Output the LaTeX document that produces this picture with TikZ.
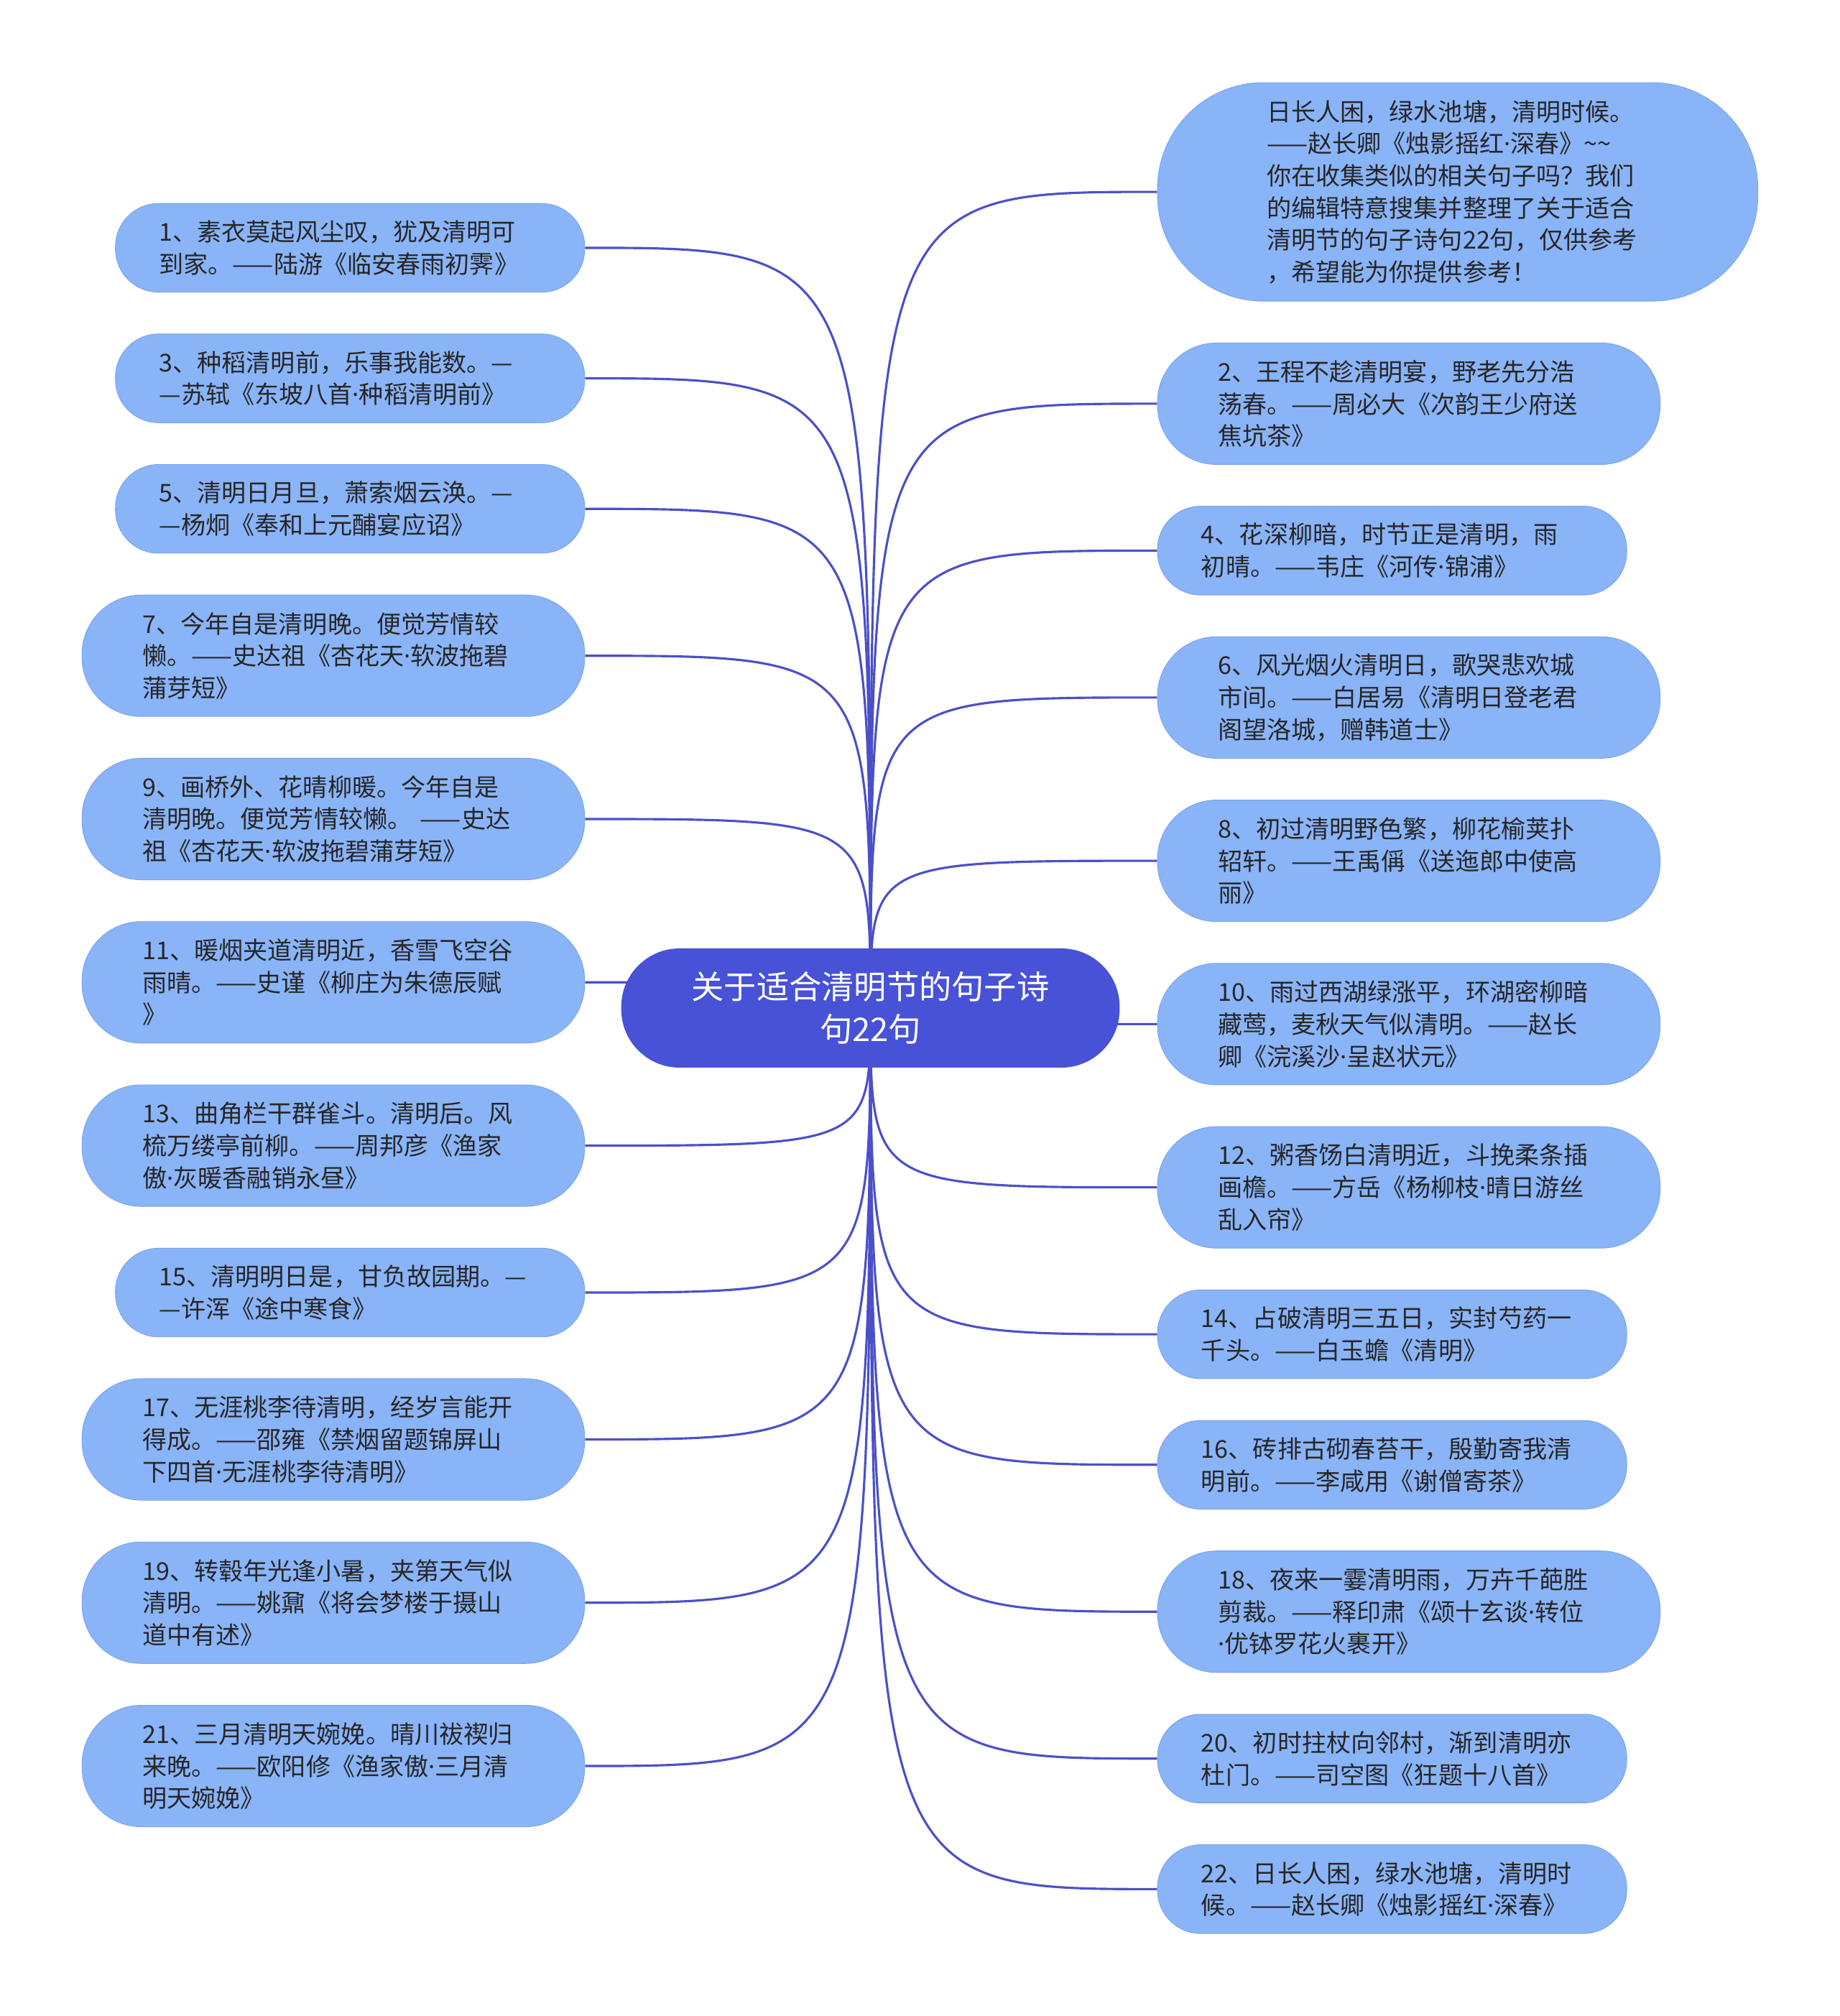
\documentclass[tikz,border=0pt]{standalone}
\usepackage{fontspec}
\setmainfont{Noto Sans CJK SC}
\newfontfamily\westfont{Noto Sans}
\newcommand\sepdot{{\westfont ·}}
\usetikzlibrary{positioning, backgrounds}

\definecolor{leafblue}{RGB}{138,180,248}
\definecolor{leafedge}{RGB}{122,164,238}
\definecolor{rootblue}{RGB}{72,82,214}
\definecolor{branchblue}{RGB}{75,80,200}
\definecolor{inkgray}{RGB}{38,38,38}

\begin{document}
\begin{tikzpicture}[
    x=0.02cm, y=-0.02cm,
    node distance=0.64cm,
    root/.style={fill=rootblue, draw=rootblue, rounded corners=0.9cm, minimum width=7.74cm, minimum height=1.84cm, align=center, text=white, font=\fontsize{14.4}{18.8}\selectfont},
    poem/.style={fill=leafblue, draw=leafedge, line width=0.3pt, text width=5.94cm, align=left, text=inkgray, inner ysep=0pt, font=\fontsize{10.85}{14.2}\selectfont},
    duo/.style={poem, minimum height=1.38cm, inner xsep=0.68cm, rounded corners=0.67cm},
    trio/.style={poem, minimum height=1.89cm, inner xsep=0.94cm, rounded corners=0.92cm},
    branch/.style={draw=branchblue, line width=1pt}
]
    % Root
    \node[root] (title) at (677,784) {关于适合清明节的句子诗\\句22句};

    % Left column
    \node[duo, anchor=north east] (q1) at (455,158) {1、素衣莫起风尘叹，犹及清明可\\到家。——陆游《临安春雨初霁》};
    \node[duo, below=of q1.south east, anchor=north east] (q3) {3、种稻清明前，乐事我能数。—\\—苏轼《东坡八首\sepdot 种稻清明前》};
    \node[duo, below=of q3.south east, anchor=north east] (q5) {5、清明日月旦，萧索烟云涣。—\\—杨炯《奉和上元酺宴应诏》};
    \node[trio, below=of q5.south east, anchor=north east] (q7) {7、今年自是清明晚。便觉芳情较\\懒。——史达祖《杏花天\sepdot 软波拖碧\\蒲芽短》};
    \node[trio, below=of q7.south east, anchor=north east] (q9) {9、画桥外、花晴柳暖。今年自是\\清明晚。便觉芳情较懒。\ ——史达\\祖《杏花天\sepdot 软波拖碧蒲芽短》};
    \node[trio, below=of q9.south east, anchor=north east] (q11) {11、暖烟夹道清明近，香雪飞空谷\\雨晴。——史谨《柳庄为朱德辰赋\\》};
    \node[trio, below=of q11.south east, anchor=north east] (q13) {13、曲角栏干群雀斗。清明后。风\\梳万缕亭前柳。——周邦彦《渔家\\傲\sepdot 灰暖香融销永昼》};
    \node[duo, below=of q13.south east, anchor=north east] (q15) {15、清明明日是，甘负故园期。—\\—许浑《途中寒食》};
    \node[trio, below=of q15.south east, anchor=north east] (q17) {17、无涯桃李待清明，经岁言能开\\得成。——邵雍《禁烟留题锦屏山\\下四首\sepdot 无涯桃李待清明》};
    \node[trio, below=of q17.south east, anchor=north east] (q19) {19、转毂年光逢小暑，夹第天气似\\清明。——姚鼐《将会梦楼于摄山\\道中有述》};
    \node[trio, below=of q19.south east, anchor=north east] (q21) {21、三月清明天婉娩。晴川祓禊归\\来晚。——欧阳修《渔家傲\sepdot 三月清\\明天婉娩》};

    % Right column
    \node[poem, minimum height=3.4cm, inner xsep=1.7cm, rounded corners=1.65cm, anchor=north west] (q0) at (900,64) {日长人困，绿水池塘，清明时候。\\——赵长卿《烛影摇红\sepdot 深春》\textasciitilde\textasciitilde\\你在收集类似的相关句子吗？我们\\的编辑特意搜集并整理了关于适合\\清明节的句子诗句22句，仅供参考\\，希望能为你提供参考！};
    \node[trio, below=of q0.south west, anchor=north west] (q2) {2、王程不趁清明宴，野老先分浩\\荡春。——周必大《次韵王少府送\\焦坑茶》};
    \node[duo, below=of q2.south west, anchor=north west] (q4) {4、花深柳暗，时节正是清明，雨\\初晴。——韦庄《河传\sepdot 锦浦》};
    \node[trio, below=of q4.south west, anchor=north west] (q6) {6、风光烟火清明日，歌哭悲欢城\\市间。——白居易《清明日登老君\\阁望洛城，赠韩道士》};
    \node[trio, below=of q6.south west, anchor=north west] (q8) {8、初过清明野色繁，柳花榆荚扑\\轺轩。——王禹偁《送迤郎中使高\\丽》};
    \node[trio, below=of q8.south west, anchor=north west] (q10) {10、雨过西湖绿涨平，环湖密柳暗\\藏莺，麦秋天气似清明。——赵长\\卿《浣溪沙\sepdot 呈赵状元》};
    \node[trio, below=of q10.south west, anchor=north west] (q12) {12、粥香饧白清明近，斗挽柔条插\\画檐。——方岳《杨柳枝\sepdot 晴日游丝\\乱入帘》};
    \node[duo, below=of q12.south west, anchor=north west] (q14) {14、占破清明三五日，实封芍药一\\千头。——白玉蟾《清明》};
    \node[duo, below=of q14.south west, anchor=north west] (q16) {16、砖排古砌春苔干，殷勤寄我清\\明前。——李咸用《谢僧寄茶》};
    \node[trio, below=of q16.south west, anchor=north west] (q18) {18、夜来一霎清明雨，万卉千葩胜\\剪裁。——释印肃《颂十玄谈\sepdot 转位\\\sepdot 优钵罗花火裹开》};
    \node[duo, below=of q18.south west, anchor=north west] (q20) {20、初时拄杖向邻村，渐到清明亦\\杜门。——司空图《狂题十八首》};
    \node[duo, below=of q20.south west, anchor=north west] (q22) {22、日长人困，绿水池塘，清明时\\候。——赵长卿《烛影摇红\sepdot 深春》};

    % Branches
    \begin{scope}[on background layer]
        \fill[white] (0,0) rectangle (1431,1568);
        \foreach \q in {q1,q3,q5,q7,q9,q11,q13,q15,q17,q19,q21}
            \draw[branch] (title.center) .. controls (title.center |- \q.east) .. (\q.east);
        \foreach \q in {q0,q2,q4,q6,q8,q10,q12,q14,q16,q18,q20,q22}
            \draw[branch] (title.center) .. controls (title.center |- \q.west) .. (\q.west);
    \end{scope}

\end{tikzpicture}
\end{document}
